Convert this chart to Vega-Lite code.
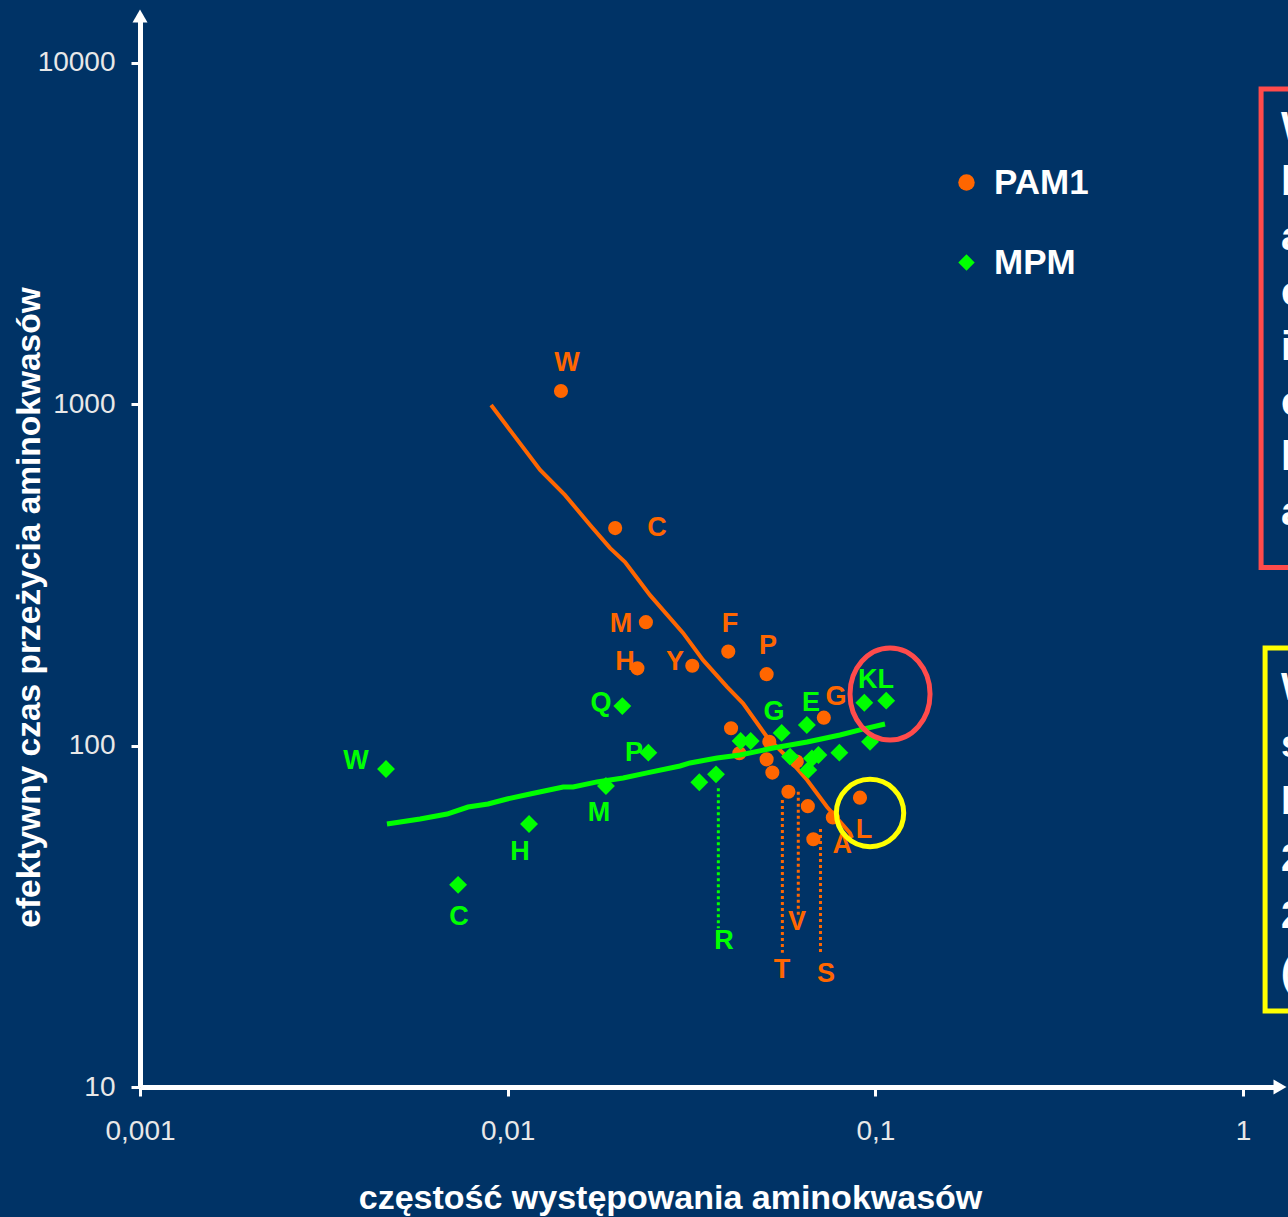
{
  "$schema": "https://vega.github.io/schema/vega-lite/v6.json",
  "width": 1140,
  "height": 1071,
  "autosize": "none",
  "padding": {"left": 140, "top": 16, "right": 8, "bottom": 130},
  "background": "#003366",
  "config": {
    "view": {"stroke": null},
    "font": "Liberation Sans",
    "axis": {"grid": false}
  },
  "datasets": {
    "pam": [
      {"aa": "W", "x": 0.01396, "y": 1094, "series": "PAM1"},
      {"aa": "C", "x": 0.0196, "y": 434, "series": "PAM1"},
      {"aa": "M", "x": 0.02376, "y": 230, "series": "PAM1"},
      {"aa": "H", "x": 0.02253, "y": 168.5, "series": "PAM1"},
      {"aa": "Y", "x": 0.03177, "y": 171.4, "series": "PAM1"},
      {"aa": "F", "x": 0.0398, "y": 188.6, "series": "PAM1"},
      {"aa": "P", "x": 0.0506, "y": 162, "series": "PAM1"},
      {"aa": "G", "x": 0.0724, "y": 120.8, "series": "PAM1"},
      {"aa": "-", "x": 0.0405, "y": 112.5, "series": "PAM1"},
      {"aa": "-", "x": 0.04266, "y": 95.0, "series": "PAM1"},
      {"aa": "-", "x": 0.05146, "y": 102.7, "series": "PAM1"},
      {"aa": "-", "x": 0.0506, "y": 91.2, "series": "PAM1"},
      {"aa": "-", "x": 0.05245, "y": 83.4, "series": "PAM1"},
      {"aa": "-", "x": 0.0611, "y": 89.8, "series": "PAM1"},
      {"aa": "T", "x": 0.058, "y": 73.3, "series": "PAM1"},
      {"aa": "V", "x": 0.0655, "y": 66.5, "series": "PAM1"},
      {"aa": "A", "x": 0.0766, "y": 61.6, "series": "PAM1"},
      {"aa": "S", "x": 0.0678, "y": 53.2, "series": "PAM1"},
      {"aa": "L", "x": 0.0908, "y": 70.4, "series": "PAM1"}
    ],
    "mpm": [
      {"aa": "W", "x": 0.004667, "y": 85.4, "series": "MPM"},
      {"aa": "C", "x": 0.00733, "y": 39.1, "series": "MPM"},
      {"aa": "H", "x": 0.01143, "y": 58.96, "series": "MPM"},
      {"aa": "M", "x": 0.0185, "y": 76.2, "series": "MPM"},
      {"aa": "Q", "x": 0.0205, "y": 130.6, "series": "MPM"},
      {"aa": "P", "x": 0.02413, "y": 95.4, "series": "MPM"},
      {"aa": "-", "x": 0.0332, "y": 78.1, "series": "MPM"},
      {"aa": "R", "x": 0.03686, "y": 82.4, "series": "MPM"},
      {"aa": "-", "x": 0.043, "y": 103.2, "series": "MPM"},
      {"aa": "-", "x": 0.0458, "y": 103.2, "series": "MPM"},
      {"aa": "G", "x": 0.0556, "y": 109, "series": "MPM"},
      {"aa": "-", "x": 0.0586, "y": 92.9, "series": "MPM"},
      {"aa": "E", "x": 0.0651, "y": 115, "series": "MPM"},
      {"aa": "-", "x": 0.070, "y": 93.9, "series": "MPM"},
      {"aa": "-", "x": 0.0672, "y": 91.8, "series": "MPM"},
      {"aa": "-", "x": 0.0657, "y": 84.9, "series": "MPM"},
      {"aa": "-", "x": 0.0798, "y": 95.4, "series": "MPM"},
      {"aa": "-", "x": 0.0967, "y": 102.7, "series": "MPM"},
      {"aa": "K", "x": 0.0933, "y": 133.6, "series": "MPM"},
      {"aa": "L", "x": 0.107, "y": 135.5, "series": "MPM"}
    ],
    "pamLine": [
      {"x": 0.009011, "y": 995}, {"x": 0.01225, "y": 642}, {"x": 0.01432, "y": 542},
      {"x": 0.01675, "y": 443}, {"x": 0.01899, "y": 379}, {"x": 0.02085, "y": 345},
      {"x": 0.02438, "y": 276}, {"x": 0.02998, "y": 214}, {"x": 0.034, "y": 178},
      {"x": 0.0395, "y": 148.6}, {"x": 0.04365, "y": 133}, {"x": 0.05073, "y": 106},
      {"x": 0.0575, "y": 92.6}, {"x": 0.0652, "y": 79.3}, {"x": 0.0739, "y": 66.1},
      {"x": 0.0853, "y": 55.5}, {"x": 0.0864, "y": 53.6}
    ],
    "mpmLine": [
      {"x": 0.004695, "y": 58.96}, {"x": 0.005776, "y": 61.0}, {"x": 0.00684, "y": 63.06},
      {"x": 0.0078, "y": 66.1}, {"x": 0.00884, "y": 67.5}, {"x": 0.00996, "y": 69.8},
      {"x": 0.0115, "y": 72.2}, {"x": 0.01415, "y": 75.7}, {"x": 0.01506, "y": 75.7},
      {"x": 0.0175, "y": 78.3}, {"x": 0.0206, "y": 80.4}, {"x": 0.02393, "y": 83.2},
      {"x": 0.02942, "y": 87.2}, {"x": 0.03132, "y": 89.0}, {"x": 0.0371, "y": 92.0},
      {"x": 0.04284, "y": 93.9}, {"x": 0.0527, "y": 98.4}, {"x": 0.0652, "y": 102.5},
      {"x": 0.0801, "y": 107.5}, {"x": 0.0908, "y": 111.2}, {"x": 0.1062, "y": 115.7}
    ],
    "labels": [
      {"t": "W", "x": 0.0145, "y": 1322, "series": "PAM1"},
      {"t": "C", "x": 0.02547, "y": 434, "series": "PAM1"},
      {"t": "M", "x": 0.02033, "y": 227, "series": "PAM1"},
      {"t": "H", "x": 0.02085, "y": 175.9, "series": "PAM1"},
      {"t": "Y", "x": 0.02851, "y": 175.9, "series": "PAM1"},
      {"t": "F", "x": 0.04024, "y": 227, "series": "PAM1"},
      {"t": "P", "x": 0.05105, "y": 195.9, "series": "PAM1"},
      {"t": "G", "x": 0.07816, "y": 138.9, "series": "PAM1"},
      {"t": "L", "x": 0.09315, "y": 56.6, "series": "PAM1"},
      {"t": "A", "x": 0.0812, "y": 51.2, "series": "PAM1"},
      {"t": "T", "x": 0.05572, "y": 22.0, "series": "PAM1"},
      {"t": "V", "x": 0.06124, "y": 30.4, "series": "PAM1"},
      {"t": "S", "x": 0.07341, "y": 21.4, "series": "PAM1"},
      {"t": "W", "x": 0.003869, "y": 90.2, "series": "MPM"},
      {"t": "C", "x": 0.007374, "y": 31.5, "series": "MPM"},
      {"t": "H", "x": 0.0108, "y": 48.8, "series": "MPM"},
      {"t": "M", "x": 0.01772, "y": 63.5, "series": "MPM"},
      {"t": "Q", "x": 0.01794, "y": 133.4, "series": "MPM"},
      {"t": "P", "x": 0.02206, "y": 95.2, "series": "MPM"},
      {"t": "R", "x": 0.03877, "y": 26.8, "series": "MPM"},
      {"t": "G", "x": 0.05302, "y": 125.5, "series": "MPM"},
      {"t": "E", "x": 0.06683, "y": 133.4, "series": "MPM"},
      {"t": "KL", "x": 0.1004, "y": 155.8, "series": "MPM"}
    ],
    "guides": [
      {"x": 0.0374, "y": 75.0, "y2": 29.2, "series": "MPM"},
      {"x": 0.05585, "y": 69.3, "y2": 24.75, "series": "PAM1"},
      {"x": 0.0617, "y": 73.3, "y2": 31.9, "series": "PAM1"},
      {"x": 0.0709, "y": 57.0, "y2": 24.75, "series": "PAM1"}
    ]
  },
  "encoding": {
    "x": {
      "field": "x", "type": "quantitative",
      "scale": {"type": "log", "domain": [0.001, 1.26], "nice": false, "clamp": false},
      "axis": {
        "values": [0.001, 0.01, 0.1, 1],
        "labelExpr": "replace(toString(datum.value), '.', ',')",
        "domainColor": "white", "domainWidth": 5,
        "tickColor": "white", "tickWidth": 3, "tickSize": 9,
        "labelColor": "#e8e8e8", "labelFontSize": 28, "labelPadding": 21,
        "labelFlush": false, "labelOverlap": false,
        "title": "częstość występowania aminokwasów",
        "titleColor": "white", "titleFontSize": 34, "titleFontWeight": "bold",
        "titleX": 530, "titleY": 121, "titleBaseline": "alphabetic", "titleAlign": "center", "titleAnchor": null
      }
    },
    "y": {
      "field": "y", "type": "quantitative",
      "scale": {"type": "log", "domain": [10, 13730], "nice": false, "clamp": false},
      "axis": {
        "values": [10, 100, 1000, 10000],
        "labelExpr": "toString(datum.value)",
        "domainColor": "white", "domainWidth": 5,
        "tickColor": "white", "tickWidth": 3, "tickSize": 9,
        "labelColor": "#e8e8e8", "labelFontSize": 28, "labelPadding": 16,
        "labelFlush": false, "labelOverlap": false,
        "title": "efektywny czas przeżycia aminokwasów",
        "titleColor": "white", "titleFontSize": 33.5, "titleFontWeight": "bold",
        "titleX": -101, "titleY": 591, "titleBaseline": "alphabetic", "titleAlign": "center", "titleAngle": -90
      }
    }
  },
  "layer": [
    {
      "data": {"name": "pamLine"},
      "mark": {"type": "line", "color": "#FF6600", "strokeWidth": 4, "clip": false}
    },
    {
      "data": {"name": "guides"},
      "transform": [{"filter": "datum.series == 'PAM1'"}],
      "mark": {"type": "rule", "color": "#FF6600", "strokeWidth": 3, "strokeDash": [3, 3]},
      "encoding": {"y2": {"field": "y2"}}
    },
    {
      "data": {"name": "guides"},
      "transform": [{"filter": "datum.series == 'MPM'"}],
      "mark": {"type": "rule", "color": "#00FF00", "strokeWidth": 3, "strokeDash": [3, 3]},
      "encoding": {"y2": {"field": "y2"}}
    },
    {
      "data": {"name": "pam"},
      "mark": {"type": "point", "filled": true, "opacity": 1, "size": 200},
      "encoding": {
        "color": {"field": "series", "type": "nominal", "scale": {"domain": ["PAM1", "MPM"], "range": ["#FF6600", "#00FF00"]},
          "legend": {"orient": "none", "legendX": 809, "legendY": 149, "title": null, "padding": 0,
            "labelFontSize": 35, "labelFontWeight": "bold", "labelColor": "white", "labelFont": "Liberation Sans",
            "symbolSize": 270, "rowPadding": 44, "labelOffset": 10, "symbolStrokeWidth": 0, "symbolOpacity": 1}},
        "shape": {"field": "series", "type": "nominal", "scale": {"domain": ["PAM1", "MPM"], "range": ["circle", "diamond"]}}
      }
    },
    {
      "data": {"name": "mpm"},
      "mark": {"type": "point", "filled": true, "opacity": 1, "size": 320},
      "encoding": {
        "color": {"field": "series", "type": "nominal"},
        "shape": {"field": "series", "type": "nominal"}
      }
    },
    {
      "data": {"name": "mpmLine"},
      "mark": {"type": "line", "color": "#00FF00", "strokeWidth": 5, "clip": false}
    },
    {
      "data": {"name": "labels"},
      "transform": [{"filter": "datum.series == 'PAM1'"}],
      "mark": {"type": "text", "color": "#FF6600", "fontSize": 27, "fontWeight": "bold", "align": "center", "baseline": "middle"},
      "encoding": {"text": {"field": "t"}}
    },
    {
      "data": {"name": "labels"},
      "transform": [{"filter": "datum.series == 'MPM'"}],
      "mark": {"type": "text", "color": "#00FF00", "fontSize": 27, "fontWeight": "bold", "align": "center", "baseline": "middle"},
      "encoding": {"text": {"field": "t"}}
    },
    {
      "data": {"values": [{"x": 0.1096, "y": 141.7}]},
      "mark": {"type": "point", "shape": "M-0.87,0A0.87,1,0,1,0,0.87,0A0.87,1,0,1,0,-0.87,0Z", "filled": false, "size": 8464, "stroke": "#FF4B4B", "strokeWidth": 5, "opacity": 1}
    },
    {
      "data": {"values": [{"x": 0.0967, "y": 63.5}]},
      "mark": {"type": "point", "shape": "circle", "filled": false, "size": 4536, "stroke": "#FFFF00", "strokeWidth": 5, "opacity": 1}
    },
    {
      "data": {"values": [{"x": 1.1192, "x2": 3, "y": 8390, "y2": 332.7}]},
      "mark": {"type": "rect", "fill": null, "stroke": "#FF4B4B", "strokeWidth": 5, "clip": false},
      "encoding": {"x2": {"field": "x2"}, "y2": {"field": "y2"}}
    },
    {
      "data": {"values": [{"x": 1.1477, "x2": 3, "y": 193.3, "y2": 16.7}]},
      "mark": {"type": "rect", "fill": null, "stroke": "#FFFF00", "strokeWidth": 5, "clip": false},
      "encoding": {"x2": {"field": "x2"}, "y2": {"field": "y2"}}
    },
    {
      "data": {"values": [{"x": 1.268, "y": 5949, "lines": ["W PAM1", "bardziej", "aminokwasy", "częstsze", "i", "często", "lepiej", "akceptowane"]}]},
      "mark": {"type": "text", "color": "white", "fontSize": 40, "fontWeight": "bold", "align": "left", "baseline": "alphabetic", "lineHeight": 55},
      "encoding": {"text": {"field": "lines"}}
    },
    {
      "data": {"values": [{"x": 1.268, "y": 136.1, "lines": ["W MPM", "stabilność", "białek", "20", "20", "(aminokwasy)"]}]},
      "mark": {"type": "text", "color": "white", "fontSize": 38, "fontWeight": "bold", "align": "left", "baseline": "alphabetic", "lineHeight": 57},
      "encoding": {"text": {"field": "lines"}}
    },
    {
      "data": {"values": [{"x": 0.001, "y": 13730}]},
      "mark": {"type": "point", "shape": "triangle-up", "filled": true, "color": "white", "opacity": 1, "size": 225}
    },
    {
      "data": {"values": [{"x": 1.26, "y": 10}]},
      "mark": {"type": "point", "shape": "triangle-right", "filled": true, "color": "white", "opacity": 1, "size": 225}
    }
  ]
}
